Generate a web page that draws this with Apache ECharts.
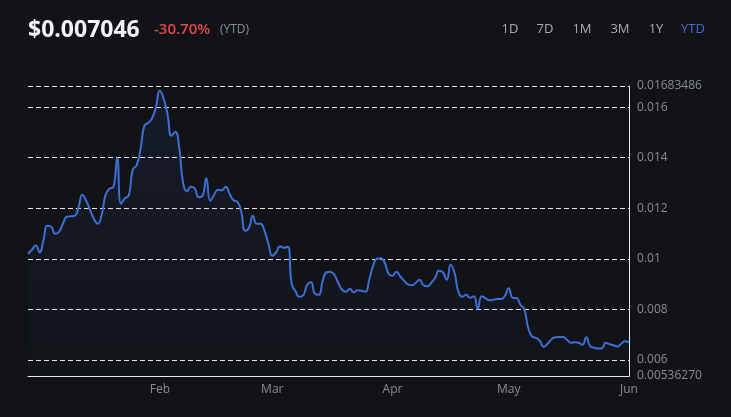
<!DOCTYPE html>
<html>
<head>
<meta charset="utf-8">
<script src="https://cdn.jsdelivr.net/npm/echarts@6/dist/echarts.min.js"></script>
<style>
  html, body { margin: 0; padding: 0; background: #111317; }
  #chart { width: 731px; height: 417px; }
</style>
</head>
<body>
<div id="chart"></div>
<script>
// ---- data ----
const startDate = '2023-12-29';   // first daily point
const prices = [
  0.010198, 0.010356, 0.010526, 0.010249, 0.010752, 0.011305, 0.011266, 0.010989, 0.011068, 0.011385,
  0.011662, 0.011681, 0.011701, 0.012018, 0.012532, 0.012294, 0.011938, 0.011582, 0.011385, 0.011741,
  0.012532, 0.012769, 0.012829, 0.013976, 0.012176, 0.012393, 0.012512, 0.013521, 0.013699, 0.014312,
  0.015261, 0.015380, 0.015558, 0.016013, 0.016646, 0.016330, 0.015697, 0.014866, 0.015024, 0.014391,
  0.013007, 0.012670, 0.012848, 0.012789, 0.012433, 0.012492, 0.013185, 0.012294, 0.012532, 0.012730,
  0.012710, 0.012848, 0.012571, 0.012314, 0.012255, 0.011859, 0.011108, 0.011226, 0.011701, 0.011385,
  0.011385, 0.011108, 0.010593, 0.010119, 0.010257, 0.010495, 0.010435, 0.010475, 0.009011, 0.008714,
  0.008497, 0.008556, 0.008971, 0.009070, 0.008615, 0.008576, 0.009130, 0.009466, 0.009486, 0.009367,
  0.009051, 0.008774, 0.008695, 0.008813, 0.008675, 0.008754, 0.008734, 0.008695, 0.009169, 0.009723,
  0.010000, 0.010020, 0.009842, 0.009407, 0.009327, 0.009486, 0.009308, 0.009130, 0.008991, 0.008952,
  0.009051, 0.009169, 0.008952, 0.008912, 0.009051, 0.009248, 0.009525, 0.009466, 0.009169, 0.009763,
  0.009446, 0.008695, 0.008497, 0.008576, 0.008457, 0.008516, 0.008022, 0.008516, 0.008437, 0.008358,
  0.008378, 0.008406, 0.008406, 0.008536, 0.008833, 0.008457, 0.008445, 0.008180, 0.008002, 0.007270,
  0.006934, 0.006875, 0.006756, 0.006519, 0.006637, 0.006815, 0.006895, 0.006903, 0.006903, 0.006796,
  0.006677, 0.006697, 0.006677, 0.006598, 0.006895, 0.006538, 0.006487, 0.006447, 0.006455, 0.006677,
  0.006618, 0.006578, 0.006531, 0.006637, 0.006736, 0.006689
];
const yMin = 0.0053627006;
const yMax = 0.01683486;
const monthNames = ['Jan','Feb','Mar','Apr','May','Jun','Jul','Aug','Sep','Oct','Nov','Dec'];
const headline = { price: '$0.007046', change: '-30.70%', period: '(YTD)' };
const ranges = ['1D', '7D', '1M', '3M', '1Y', 'YTD'];
const activeRange = 'YTD';

// ---- build series ----
const t0 = new Date(startDate + 'T00:00:00').getTime();
const seriesData = prices.map((v, i) => {
  const d = new Date(t0);
  d.setDate(d.getDate() + i);
  return [d.getTime(), v];
});

const rangeX = [510, 545, 582, 620, 656, 693];
const graphics = [
  { type: 'text', x: 28, y: 30, style: { text: headline.price, fill: '#f2f4f7', font: 'bold 23px "Open Sans", sans-serif', verticalAlign: 'middle' } },
  { type: 'text', x: 154, y: 30, style: { text: headline.change, fill: '#e5484d', font: '600 15px "Open Sans", sans-serif', verticalAlign: 'middle' } },
  { type: 'text', x: 220, y: 30, style: { text: headline.period, fill: '#8a8d93', font: '12px "Open Sans", sans-serif', verticalAlign: 'middle' } }
];
ranges.forEach((r, i) => {
  graphics.push({ type: 'text', x: rangeX[i], y: 29, style: { text: r, fill: r === activeRange ? '#3d6fd4' : '#a9acb1', font: '13px "Open Sans", sans-serif', align: 'center', verticalAlign: 'middle' } });
});

const chart = echarts.init(document.getElementById('chart'), null, { renderer: 'canvas' });
chart.setOption({
  backgroundColor: '#111317',
  animation: false,
  graphic: graphics,
  grid: { left: 28, right: 102, top: 86, bottom: 41, containLabel: false },
  xAxis: {
    type: 'time',
    min: seriesData[0][0],
    max: seriesData[seriesData.length - 1][0],
    axisLine: { show: true, lineStyle: { color: '#e8e8e8', width: 1 } },
    axisTick: { show: false },
    splitLine: { show: false },
    axisLabel: {
      color: '#8a8d93',
      fontSize: 12,
      fontFamily: '"Open Sans", sans-serif',
      margin: 8,
      formatter: function (val) {
        const d = new Date(val);
        if (d.getMonth() === 0 || d.getDate() !== 1) return '';
        return monthNames[d.getMonth()];
      }
    }
  },
  yAxis: {
    type: 'value',
    position: 'right',
    min: yMin,
    max: yMax,
    scale: true,
    axisLine: { show: true, lineStyle: { color: '#e8e8e8', width: 1 } },
    axisTick: { show: false },
    splitLine: { show: true, lineStyle: { color: '#e6e6e6', type: [5, 3], width: 1 } },
    axisLabel: {
      color: '#8a8d93',
      fontSize: 12,
      fontFamily: '"Open Sans", sans-serif',
      margin: 8,
      width: 70,
      overflow: 'truncate',
      ellipsis: '',
      showMinLabel: true,
      showMaxLabel: true
    }
  },
  series: [{
    type: 'line',
    data: seriesData,
    smooth: true,
    showSymbol: false,
    lineStyle: { color: '#3d6fd4', width: 2 },
    areaStyle: {
      color: new echarts.graphic.LinearGradient(0, 0, 0, 1, [
        { offset: 0, color: 'rgba(61,111,212,0.14)' },
        { offset: 1, color: 'rgba(61,111,212,0.01)' }
      ])
    }
  }]
});
</script>
</body>
</html>
